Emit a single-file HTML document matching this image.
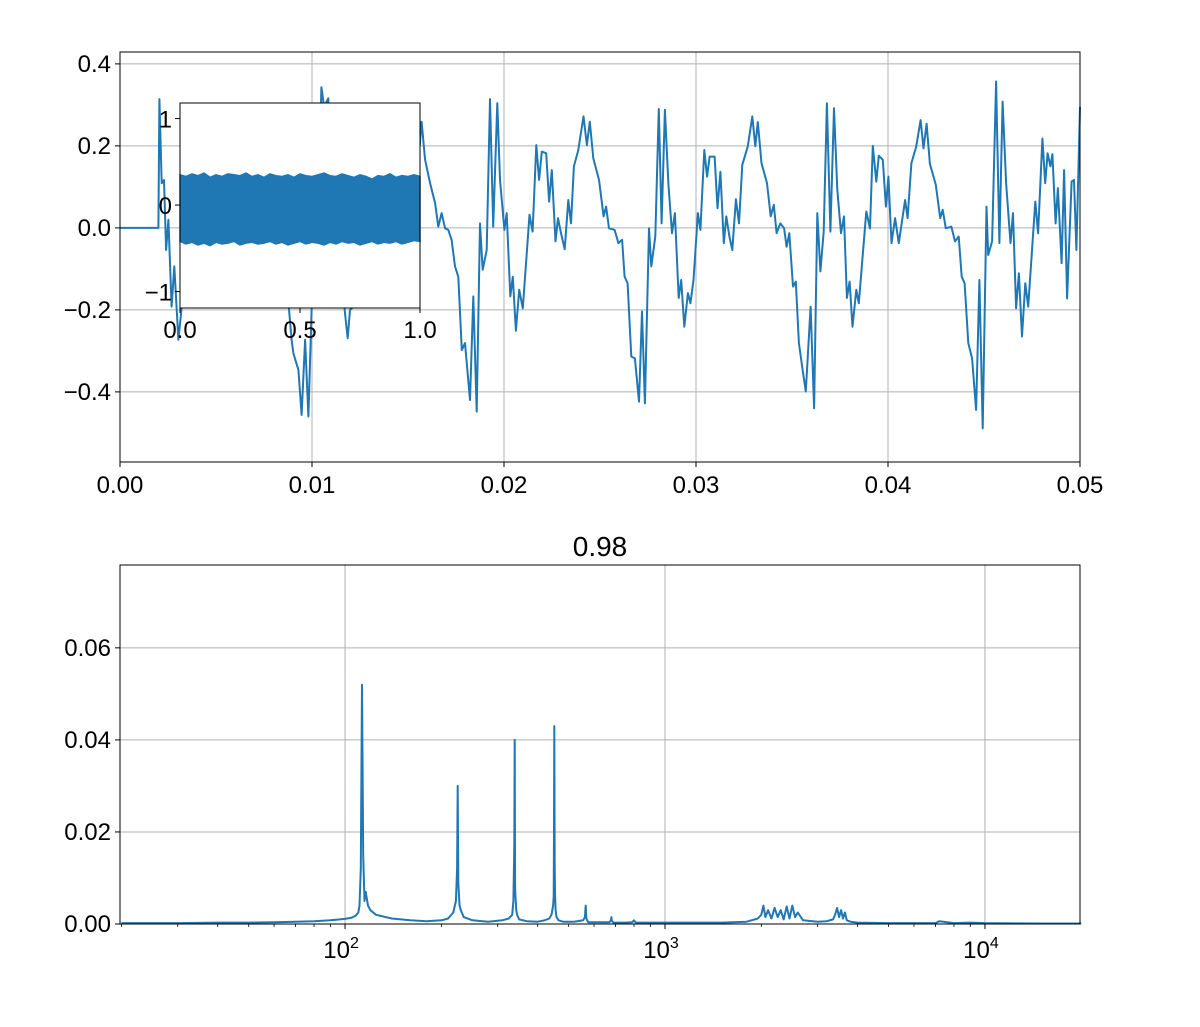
<!DOCTYPE html>
<html><head><meta charset="utf-8">
<style>
html,body{margin:0;padding:0;background:#fff;}
svg{display:block;font-family:"Liberation Sans","DejaVu Sans",sans-serif;}
</style></head>
<body>
<svg id="chart" width="1200" height="1027" viewBox="0 0 1200 1027">
<rect width="1200" height="1027" fill="#fff"/>
<g id="toppanel"></g>
<g id="insetpanel"></g>
<g id="botpanel"></g>
</svg>
<script>
// ---- waveform data (time in ms, amplitude) ----
const waveT = [0,2.0,2.05,2.17,2.29,2.40,2.52,2.69,2.83,3.04,3.2,3.4,3.6,3.8,4.0,4.3,4.5,4.7,4.9,5.1,5.3,5.5,5.7,5.85,6.1,6.35,6.5,6.7,6.9,7.2,7.4,7.6,7.8,8.1,8.3,8.5,8.7,8.94,9.03,9.29,9.46,9.64,9.81,9.98,10.3,10.49,10.63,10.85,11.0,11.2,11.4,11.6,11.72,11.86,11.98,12.08,12.28,12.62,12.78,12.97,13.12,13.26,13.49,13.64,13.78,13.97,14.10,14.26,14.45,14.64,14.78,14.93,15.16,15.43,15.61,15.71,15.89,16.15,16.41,16.58,16.75,16.93,17.10,17.27,17.45,17.62,17.80,17.97,18.23,18.40,18.58,18.75,18.89,19.10,19.27,19.44,19.65,19.79,20.02,20.14,20.33,20.46,20.62,20.79,20.98,21.33,21.49,21.68,21.83,21.97,22.20,22.35,22.49,22.68,22.81,22.97,23.16,23.35,23.49,23.64,23.87,24.14,24.32,24.47,24.65,24.95,25.19,25.32,25.47,25.76,25.96,26.15,26.28,26.44,26.63,26.82,27.03,27.19,27.34,27.55,27.67,27.88,28.06,28.21,28.38,28.56,28.75,28.90,29.10,29.23,29.39,29.58,29.71,29.87,30.10,30.23,30.43,30.58,30.71,30.97,31.12,31.27,31.45,31.58,31.74,31.89,32.08,32.24,32.41,32.70,32.93,33.09,33.22,33.41,33.70,33.89,34.05,34.20,34.39,34.59,34.72,34.86,35.05,35.20,35.36,35.55,35.72,35.97,36.15,36.32,36.48,36.65,36.82,37.00,37.19,37.36,37.55,37.71,37.86,38.00,38.15,38.35,38.48,38.87,39.06,39.21,39.39,39.52,39.73,39.89,40.02,40.18,40.37,40.56,40.89,41.02,41.22,41.47,41.70,41.85,42.01,42.18,42.49,42.72,42.85,43.01,43.30,43.49,43.68,43.84,43.99,44.18,44.38,44.59,44.76,44.93,45.13,45.22,45.42,45.63,45.80,45.97,46.15,46.38,46.51,46.67,46.82,46.98,47.15,47.30,47.67,47.82,48.04,48.19,48.31,48.46,48.56,48.73,48.85,49.04,49.17,49.33,49.56,49.69,49.81,50.0];
const waveV = [0,0,0.314,0.109,0.117,-0.054,0.020,-0.192,-0.094,-0.273,-0.2,-0.05,0.15,0.12,0.2,0.17,0.06,0.13,-0.03,0.02,-0.05,0.07,0.01,0.15,0.19,0.27,0.2,0.25,0.16,0.11,0.03,0.05,0.0,-0.01,-0.04,-0.12,-0.14,-0.273,-0.306,-0.346,-0.456,-0.273,-0.460,-0.2,0.0,0.343,0.296,0.316,0.1,-0.02,0.03,-0.15,-0.208,-0.269,-0.2,-0.196,-0.15,0.03,-0.01,0.20,0.12,0.19,0.18,0.06,0.14,-0.03,0.02,-0.01,-0.05,0.07,0.01,0.15,0.19,0.27,0.20,0.259,0.166,0.109,0.060,0.003,0.036,-0.001,-0.005,-0.029,-0.094,-0.119,-0.298,-0.281,-0.420,-0.167,-0.448,0.011,-0.102,-0.054,0.314,0.003,0.304,0.117,-0.005,0.036,-0.167,-0.119,-0.251,-0.151,-0.196,0.032,-0.009,0.202,0.117,0.186,0.182,0.064,0.141,-0.033,0.024,-0.013,-0.052,0.068,0.011,0.150,0.190,0.272,0.202,0.259,0.170,0.117,0.028,0.052,-0.001,-0.005,-0.037,-0.029,-0.119,-0.135,-0.314,-0.318,-0.424,-0.204,-0.428,-0.001,-0.094,-0.021,0.290,0.011,0.288,0.107,-0.013,0.036,-0.171,-0.127,-0.241,-0.159,-0.184,-0.127,0.036,-0.005,0.190,0.125,0.174,0.174,0.048,0.137,-0.037,0.028,-0.021,-0.054,0.070,0.011,0.154,0.199,0.272,0.199,0.258,0.158,0.109,0.028,0.056,-0.013,0.011,-0.001,-0.046,-0.013,-0.143,-0.131,-0.281,-0.346,-0.399,-0.192,-0.440,0.036,-0.106,-0.009,0.304,-0.009,0.292,0.093,-0.013,0.028,-0.171,-0.131,-0.241,-0.151,-0.184,0.040,-0.001,0.200,0.113,0.176,0.166,0.052,0.125,-0.037,0.024,-0.037,0.068,0.024,0.158,0.198,0.263,0.194,0.254,0.156,0.105,0.024,0.044,-0.001,0.003,-0.033,-0.021,-0.119,-0.135,-0.281,-0.318,-0.444,-0.127,-0.489,0.052,-0.066,-0.033,0.357,-0.037,0.308,0.109,-0.037,0.036,-0.196,-0.111,-0.265,-0.135,-0.192,0.064,-0.013,0.218,0.109,0.182,0.150,0.180,0.011,0.097,-0.086,0.141,-0.172,0.113,0.117,-0.054,0.295];
const waveXTicks = [0,0.01,0.02,0.03,0.04,0.05];
const waveXLabels = ["0.00","0.01","0.02","0.03","0.04","0.05"];
const waveYTicks = [-0.4,-0.2,0,0.2,0.4];
const waveYLabels = ["\u22120.4","\u22120.2","0.0","0.2","0.4"];

// ---- inset envelope (full signal, t in s) ----
const insetT = [0,0.025,0.05,0.075,0.1,0.125,0.15,0.175,0.2,0.225,0.25,0.275,0.3,0.325,0.35,0.375,0.4,0.425,0.45,0.475,0.5,0.525,0.55,0.575,0.6,0.625,0.65,0.675,0.7,0.725,0.75,0.775,0.8,0.825,0.85,0.875,0.9,0.925,0.95,0.975,1.0];
const insetUpper = [0.35,0.33,0.36,0.34,0.37,0.32,0.35,0.33,0.36,0.35,0.34,0.37,0.33,0.35,0.32,0.36,0.34,0.33,0.35,0.32,0.36,0.34,0.33,0.35,0.37,0.34,0.33,0.36,0.34,0.32,0.35,0.33,0.30,0.34,0.33,0.36,0.32,0.34,0.33,0.35,0.33];
const insetLower = [-0.42,-0.45,-0.43,-0.46,-0.44,-0.47,-0.43,-0.45,-0.44,-0.42,-0.46,-0.44,-0.43,-0.45,-0.44,-0.42,-0.45,-0.43,-0.46,-0.44,-0.42,-0.45,-0.43,-0.44,-0.46,-0.43,-0.45,-0.42,-0.44,-0.43,-0.46,-0.44,-0.42,-0.45,-0.43,-0.44,-0.42,-0.45,-0.43,-0.41,-0.42];
const insetXTicks = [0,0.5,1.0];
const insetXLabels = ["0.0","0.5","1.0"];
const insetYTicks = [-1,0,1];
const insetYLabels = ["\u22121","0","1"];

// ---- spectrum ----
const specF = [20,30,40,50,60,70,80,90,100,105,108,110,111,112,113,114,115,116,118,120,125,140,160,180,200,210,218,222,224,225,226,227,228,230,235,250,280,310,325,333,336,338,339,340,341,343,345,350,370,400,420,435,442,447,449,450,451,452,453,454,455,458,465,480,520,555,562,565,568,575,620,670,678,680,682,690,750,790,800,810,900,1000,1200,1500,1800,1950,2000,2030,2060,2100,2150,2200,2250,2300,2350,2400,2450,2500,2550,2600,2700,3000,3200,3350,3400,3450,3500,3550,3600,3650,3700,3800,4000,5000,7000,7200,8000,9000,10000,15000,20000];
const specA = [0.0002,0.0002,0.0003,0.0003,0.0004,0.0005,0.0006,0.0008,0.0011,0.0014,0.0018,0.0025,0.004,0.012,0.052,0.015,0.005,0.007,0.004,0.003,0.002,0.0012,0.0008,0.0006,0.0008,0.0012,0.0025,0.005,0.012,0.03,0.009,0.006,0.004,0.003,0.0015,0.0008,0.0005,0.0008,0.0012,0.002,0.005,0.017,0.040,0.008,0.006,0.003,0.002,0.001,0.0006,0.0005,0.0008,0.0012,0.002,0.004,0.006,0.02,0.043,0.013,0.007,0.005,0.003,0.0015,0.0008,0.0005,0.0005,0.0008,0.0015,0.004,0.0012,0.0004,0.0004,0.0004,0.0008,0.0015,0.0007,0.0003,0.0003,0.0004,0.0008,0.0003,0.0003,0.0003,0.0003,0.0003,0.0005,0.0012,0.002,0.004,0.0015,0.003,0.0012,0.0035,0.0015,0.003,0.001,0.0038,0.0012,0.004,0.0015,0.0025,0.0008,0.0005,0.0006,0.001,0.002,0.0035,0.0015,0.003,0.0012,0.0025,0.0008,0.0005,0.0003,0.0002,0.0002,0.0006,0.0002,0.0003,0.0002,0.0001,0.0001];
const specYTicks = [0,0.02,0.04,0.06];
const specYLabels = ["0.00","0.02","0.04","0.06"];
const specXDecades = [2,3,4];

const SVGNS = "http://www.w3.org/2000/svg";
function mk(parent, tag, attrs, text){
  const e = document.createElementNS(SVGNS, tag);
  for (const k in attrs) e.setAttribute(k, attrs[k]);
  if (text !== undefined) e.textContent = text;
  parent.appendChild(e);
  return e;
}
const BLUE = "#1f77b4", GRID = "#b0b0b0", FS = 24;

// ===== top panel =====
const topG = document.getElementById("toppanel");
const TA = {l:120, r:1080, t:52, b:462, x0:0, x1:0.05, y0:-0.571, y1:0.429};
const tx = v => TA.l + (v - TA.x0) / (TA.x1 - TA.x0) * (TA.r - TA.l);
const ty = v => TA.b - (v - TA.y0) / (TA.y1 - TA.y0) * (TA.b - TA.t);
waveXTicks.forEach((v,i) => {
  const g = mk(topG, "line", {x1:tx(v), x2:tx(v), y1:TA.t, y2:TA.b, stroke:GRID, "stroke-width":1});
  
  
  mk(topG, "line", {x1:tx(v), x2:tx(v), y1:TA.b, y2:TA.b+5, stroke:"#000", "stroke-width":1});
  const t = mk(topG, "text", {x:tx(v), y:TA.b+31, "font-size":FS, "text-anchor":"middle"}, waveXLabels[i]);
  
  
});
waveYTicks.forEach((v,i) => {
  const g = mk(topG, "line", {x1:TA.l, x2:TA.r, y1:ty(v), y2:ty(v), stroke:GRID, "stroke-width":1});
  
  
  mk(topG, "line", {x1:TA.l-5, x2:TA.l, y1:ty(v), y2:ty(v), stroke:"#000", "stroke-width":1});
  const t = mk(topG, "text", {x:TA.l-9, y:ty(v)+8, "font-size":FS, "text-anchor":"end"}, waveYLabels[i]);
  
  
});
const nW = Math.min(waveT.length, waveV.length);
const wpts = [];
for (let i = 0; i < nW; i++) wpts.push(tx(waveT[i]/1000).toFixed(1) + "," + ty(waveV[i]).toFixed(1));
const wl = mk(topG, "polyline", {points:wpts.join(" "), fill:"none", stroke:BLUE, "stroke-width":2, "stroke-linejoin":"round"});


const tf = mk(topG, "rect", {x:TA.l, y:TA.t, width:TA.r-TA.l, height:TA.b-TA.t, fill:"none", stroke:"#000", "stroke-width":1});



// ===== inset =====
const insG = document.getElementById("insetpanel");
const IA = {l:180, r:420, t:103, b:308, x0:0, x1:1, y0:-1.19, y1:1.18};
const ix = v => IA.l + (v - IA.x0) / (IA.x1 - IA.x0) * (IA.r - IA.l);
const iy = v => IA.b - (v - IA.y0) / (IA.y1 - IA.y0) * (IA.b - IA.t);
mk(insG, "rect", {x:IA.l, y:IA.t, width:IA.r-IA.l, height:IA.b-IA.t, fill:"#fff"});
const nI = Math.min(insetT.length, insetUpper.length, insetLower.length);
const upP = [], loP = [];
for (let i = 0; i < nI; i++) {
  upP.push(ix(insetT[i]).toFixed(1)+","+iy(insetUpper[i]).toFixed(1));
  loP.push(ix(insetT[i]).toFixed(1)+","+iy(insetLower[i]).toFixed(1));
}
loP.reverse();
const band = mk(insG, "polygon", {points:upP.concat(loP).join(" "), fill:BLUE, stroke:BLUE, "stroke-width":1.5});


insetXTicks.forEach((v,i) => {
  mk(insG, "line", {x1:ix(v), x2:ix(v), y1:IA.b, y2:IA.b+5, stroke:"#000"});
  const t = mk(insG, "text", {x:ix(v), y:IA.b+30, "font-size":FS, "text-anchor":"middle"}, insetXLabels[i]);
  
  
});
insetYTicks.forEach((v,i) => {
  mk(insG, "line", {x1:IA.l-5, x2:IA.l, y1:iy(v), y2:iy(v), stroke:"#000"});
  const t = mk(insG, "text", {x:IA.l-8, y:iy(v)+9, "font-size":FS, "text-anchor":"end"}, insetYLabels[i]);
  
  
});
const inf = mk(insG, "rect", {x:IA.l, y:IA.t, width:IA.r-IA.l, height:IA.b-IA.t, fill:"none", stroke:"#000", "stroke-width":1});



// ===== spectrum =====
const botG = document.getElementById("botpanel");
const BA = {l:120, r:1080, t:565, b:924, lx0:Math.log10(19.8), lx1:Math.log10(19817), y0:0, y1:0.078};
const bx = f => BA.l + (Math.log10(f) - BA.lx0) / (BA.lx1 - BA.lx0) * (BA.r - BA.l);
const by = v => BA.b - (v - BA.y0) / (BA.y1 - BA.y0) * (BA.b - BA.t);
const title = mk(botG, "text", {x:600, y:556, "font-size":28, "text-anchor":"middle"}, "0.98");


specXDecades.forEach(d => {
  const f = Math.pow(10, d);
  const g = mk(botG, "line", {x1:bx(f), x2:bx(f), y1:BA.t, y2:BA.b, stroke:GRID});
  
  
  mk(botG, "line", {x1:bx(f), x2:bx(f), y1:BA.b, y2:BA.b+5, stroke:"#000"});
  const t = mk(botG, "text", {x:bx(f)-4, y:BA.b+34, "font-size":FS, "text-anchor":"middle"});
  
  
  mk(t, "tspan", {}, "10");
  mk(t, "tspan", {dy:-10, "font-size":16}, String(d));
});
for (let d = 1; d <= 4; d++) for (let m = 2; m <= 9; m++) {
  const f = m * Math.pow(10, d);
  if (f < 19.8 || f > 19817) continue;
  mk(botG, "line", {x1:bx(f), x2:bx(f), y1:BA.b, y2:BA.b+3, stroke:"#000", "stroke-width":0.8});
}
specYTicks.forEach((v,i) => {
  const g = mk(botG, "line", {x1:BA.l, x2:BA.r, y1:by(v), y2:by(v), stroke:GRID});
  
  
  mk(botG, "line", {x1:BA.l-5, x2:BA.l, y1:by(v), y2:by(v), stroke:"#000"});
  const t = mk(botG, "text", {x:BA.l-9, y:by(v)+8, "font-size":FS, "text-anchor":"end"}, specYLabels[i]);
  
  
});
const nS = Math.min(specF.length, specA.length);
const spts = [];
for (let i = 0; i < nS; i++) spts.push(bx(specF[i]).toFixed(1)+","+by(specA[i]).toFixed(1));
const sl = mk(botG, "polyline", {points:spts.join(" "), fill:"none", stroke:BLUE, "stroke-width":2, "stroke-linejoin":"round"});


const bf = mk(botG, "rect", {x:BA.l, y:BA.t, width:BA.r-BA.l, height:BA.b-BA.t, fill:"none", stroke:"#000", "stroke-width":1});


</script>
</body></html>
